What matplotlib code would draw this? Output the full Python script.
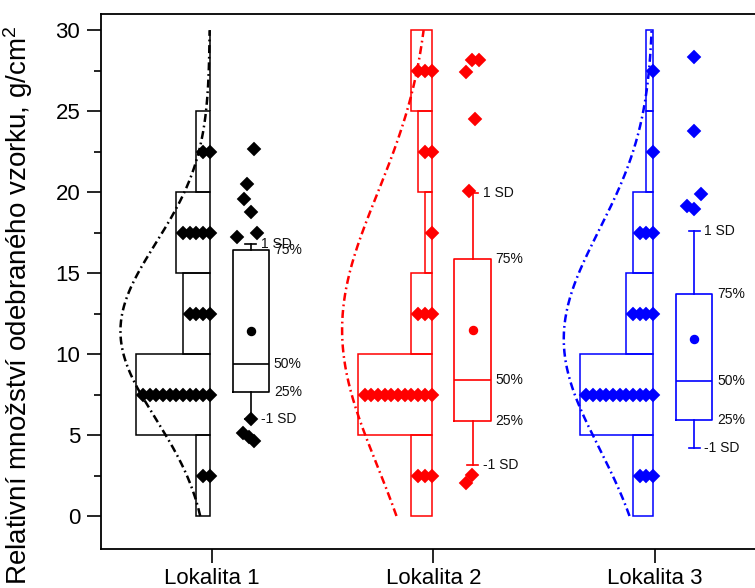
import numpy as np
import matplotlib
matplotlib.use("Agg")
import matplotlib.pyplot as plt
from matplotlib.ticker import MultipleLocator

plt.rcParams['font.family'] = ['Liberation Sans', 'DejaVu Sans']
plt.rcParams['mathtext.fontset'] = 'custom'
plt.rcParams['mathtext.rm'] = 'Liberation Sans'
plt.rcParams['mathtext.default'] = 'regular'

# ---------------- data ----------------
categories = ["Lokalita 1", "Lokalita 2", "Lokalita 3"]
colors = ["#000000", "#FF0000", "#0000FF"]

bin_edges = [0, 5, 10, 15, 20, 25, 30]
bin_centers = [2.5, 7.5, 12.5, 17.5, 22.5, 27.5]
hist_counts_1 = [2, 11, 4, 5, 2, 0]
hist_counts_2 = [3, 11, 3, 1, 2, 3]
hist_counts_3 = [3, 11, 4, 3, 1, 1]

# box statistics: q1, median, q3, mean, mean-SD, mean+SD
q1_vals = [7.63, 5.88, 5.93]
median_vals = [9.36, 8.42, 8.35]
q3_vals = [16.40, 15.84, 13.72]
mean_vals = [11.42, 11.50, 10.93]
sd_low_vals = [5.97, 3.15, 4.22]
sd_high_vals = [16.79, 19.95, 17.63]

# points outside +-1 SD (value, horizontal jitter offset in category units)
outliers_1 = [22.65, 20.53, 19.60, 18.79, 17.20, 17.45, 5.97, 5.15, 4.88, 4.66]
jitter_1 = [0.190, 0.159, 0.144, 0.175, 0.112, 0.205, 0.176, 0.142, 0.167, 0.192]
outliers_2 = [28.19, 28.19, 27.43, 24.50, 20.08, 2.06, 2.53]
jitter_2 = [0.172, 0.205, 0.147, 0.187, 0.160, 0.145, 0.172]
outliers_3 = [28.36, 23.80, 19.90, 19.14, 18.97]
jitter_3 = [0.175, 0.175, 0.206, 0.143, 0.177]

# peak height of the fitted normal curve (in histogram count units)
curve_peak_counts = 13.4

hist_counts = [hist_counts_1, hist_counts_2, hist_counts_3]
outliers = [outliers_1, outliers_2, outliers_3]
jitters = [jitter_1, jitter_2, jitter_3]

# ---------------- layout ----------------
W, H = 755, 588
fig = plt.figure(figsize=(W / 100, H / 100), dpi=100)
ax = fig.add_axes([101 / W, (H - 548.7) / H, 665 / W, (548.7 - 14) / H])
ax.set_xlim(0.5, 3.5)
ax.set_ylim(-2.02, 31.0)

unit = 0.0301          # width of one count in x units
hist_shift = -0.009    # right edge of histogram relative to category
box_shift = 0.176
box_w = 0.165
cap_w = 0.05
txt_off = 0.021
ms_d = 7.6

for i, (cat, c) in enumerate(zip(categories, colors)):
    pos = i + 1
    right = pos + hist_shift
    counts = hist_counts[i]
    widths = [-n * unit for n in counts]
    ax.barh(bin_centers, widths, height=5, left=right, facecolor='none',
            edgecolor=c, linewidth=1.1, zorder=2)
    # stacked data diamonds in histogram
    for yc, n in zip(bin_centers, counts):
        xs = [right - k * unit for k in range(n)]
        ax.plot(xs, [yc] * n, linestyle='none', marker='D', ms=ms_d, mfc=c,
                mec=c, mew=0.3, zorder=4)
    # normal curve
    m = mean_vals[i]
    s = (sd_high_vals[i] - sd_low_vals[i]) / 2
    yy = np.linspace(bin_edges[0], bin_edges[-1], 300)
    xx = right - curve_peak_counts * unit * np.exp(-(yy - m) ** 2 / (2 * s * s))
    ax.plot(xx, yy, color=c, lw=1.8, linestyle=(0, (3.2, 1.5, 0.7, 1.5)), zorder=3)

    # box plot
    bpos = pos + box_shift
    stats = [dict(med=median_vals[i], q1=q1_vals[i], q3=q3_vals[i],
                  whislo=sd_low_vals[i], whishi=sd_high_vals[i],
                  mean=mean_vals[i], fliers=[])]
    ax.bxp(stats, positions=[bpos], widths=box_w, capwidths=cap_w,
           showmeans=True, showfliers=False, manage_ticks=False,
           boxprops=dict(color=c, lw=1.2),
           whiskerprops=dict(color=c, lw=1.2),
           capprops=dict(color=c, lw=1.2),
           medianprops=dict(color=c, lw=1.2),
           meanprops=dict(marker='o', mfc=c, mec=c, ms=5.8))
    # outlier points
    ax.plot([pos + j for j in jitters[i]], outliers[i], linestyle='none',
            marker='D', ms=ms_d, mfc=c, mec=c, mew=0.3, zorder=5)
    # labels
    fs = 10
    ax.text(bpos + cap_w / 2 + txt_off, sd_high_vals[i], '1 SD', fontsize=fs,
            va='center', ha='left', color='#111111')
    ax.text(bpos + cap_w / 2 + txt_off, sd_low_vals[i], '-1 SD', fontsize=fs,
            va='center', ha='left', color='#111111')
    ax.text(bpos + box_w / 2 + txt_off, q3_vals[i], '75%', fontsize=fs,
            va='center', ha='left', color='#111111')
    ax.text(bpos + box_w / 2 + txt_off, median_vals[i], '50%', fontsize=fs,
            va='center', ha='left', color='#111111')
    ax.text(bpos + box_w / 2 + txt_off, q1_vals[i], '25%', fontsize=fs,
            va='center', ha='left', color='#111111')

# axes styling
ax.set_xticks([1, 2, 3])
ax.set_xticklabels(categories, fontsize=16)
ax.yaxis.set_major_locator(MultipleLocator(5))
ax.yaxis.set_minor_locator(MultipleLocator(2.5))
ax.tick_params(axis='y', labelsize=16)
ax.tick_params(which='major', direction='out', length=10, width=1.2, pad=5)
ax.tick_params(which='minor', direction='out', length=5, width=1.2)
ax.tick_params(axis='x', pad=4)
for sp in ['left', 'bottom', 'top']:
    ax.spines[sp].set_linewidth(1.3)
ax.spines['right'].set_visible(False)

fig.text(18 / W, 1 - 305 / H, 'Relativní množství odebraného vzorku, g/cm$^{2}$',
         rotation=90, ha='center', va='center', fontsize=20)

fig.savefig('out.png', dpi=100)
